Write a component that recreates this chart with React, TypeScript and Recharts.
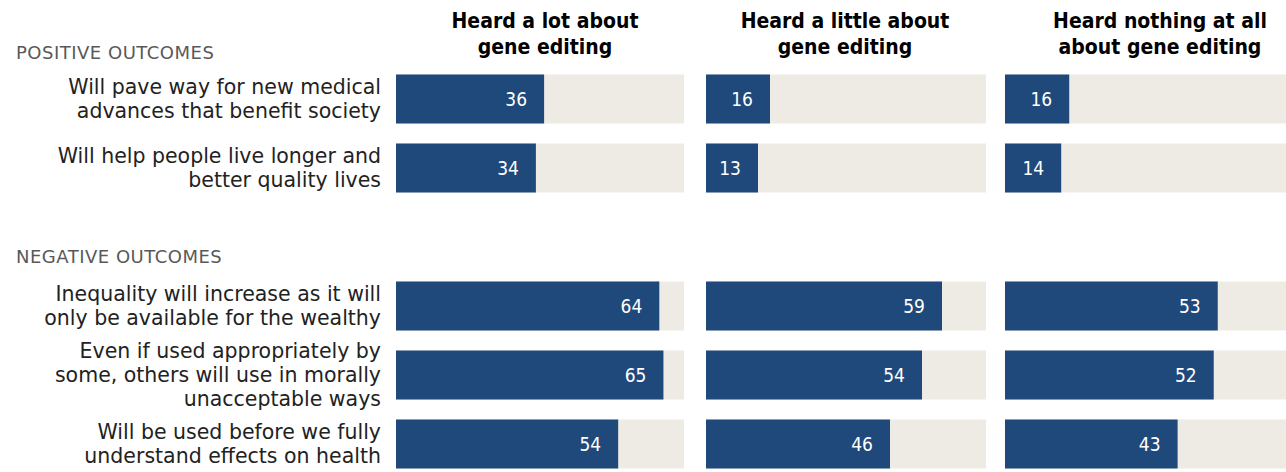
import React from "react";
import { Bar, BarChart, LabelList, XAxis, YAxis } from "recharts";

const outcomes = [
  "Will pave way for new medical\nadvances that benefit society",
  "Will help people live longer and\nbetter quality lives",
  "",
  "Inequality will increase as it will\nonly be available for the wealthy",
  "Even if used appropriately by\nsome, others will use in morally\nunacceptable ways",
  "Will be used before we fully\nunderstand effects on health",
];

const heardALot = [36, 34, null, 64, 65, 54];
const heardALittle = [16, 13, null, 59, 54, 46];
const heardNothing = [16, 14, null, 53, 52, 43];

const panelTitles = [
  "Heard a lot about\ngene editing",
  "Heard a little about\ngene editing",
  "Heard nothing at all\nabout gene editing",
];

const BLUE = "#1f497a";
const TRACK = "#eeebe5";
const NARROW = "'DejaVu Sans Condensed', 'DejaVu Sans', sans-serif";
const BODY = "'DejaVu Sans', sans-serif";

const toRows = (values: (number | null)[]) =>
  outcomes.map((name, i) => ({ name, v: values[i] }));

function OutcomeTick(props: any) {
  const { x, y, payload } = props;
  const lines = String(payload.value).split("\n").filter(Boolean);
  if (!lines.length) return null;
  const lh = 24;
  return (
    <text x={x} y={y} textAnchor="end" fill="#222" fontSize={20.5} fontFamily={BODY}>
      {lines.map((l, i) => (
        <tspan key={i} x={x} dy={i === 0 ? -((lines.length - 1) / 2) * lh + 7 : lh}>
          {l}
        </tspan>
      ))}
    </text>
  );
}

function Panel({
  values,
  width,
  withLabels,
}: {
  values: (number | null)[];
  width: number;
  withLabels?: boolean;
}) {
  const rows = toRows(values);
  const track = (p: any) =>
    p.payload && p.payload.v == null ? (
      <g />
    ) : (
      <rect x={p.x} y={p.y} width={p.width} height={p.height} fill={TRACK} />
    );
  return (
    <BarChart
      layout="vertical"
      width={width}
      height={480}
      data={rows}
      margin={{ top: 64.5, right: 0, bottom: 1.5, left: 0 }}
      barCategoryGap={20}
    >
      <XAxis type="number" domain={[0, 70]} hide />
      {withLabels ? (
        <YAxis
          type="category"
          dataKey="name"
          width={396}
          axisLine={false}
          tickLine={false}
          tickSize={0}
          tickMargin={15}
          interval={0}
          tick={<OutcomeTick />}
        />
      ) : (
        <YAxis type="category" dataKey="name" hide />
      )}
      <Bar dataKey="v" fill={BLUE} barSize={49} background={track} isAnimationActive={false}>
        <LabelList
          dataKey="v"
          position="insideRight"
          offset={17}
          fill="#fff"
          fontSize={19}
          fontFamily={NARROW}
        />
      </Bar>
    </BarChart>
  );
}

const titleCenters = [545, 845, 1160];

const sectionStyle: React.CSSProperties = {
  position: "absolute",
  left: 16,
  fontSize: 18,
  letterSpacing: 0.5,
  color: "#595959",
};

export default function App() {
  return (
    <div
      style={{
        position: "relative",
        width: 1286,
        height: 472,
        overflow: "hidden",
        background: "#fff",
        fontFamily: BODY,
      }}
    >
      <style>{`body{margin:0}`}</style>
      {panelTitles.map((t, i) => (
        <div
          key={i}
          style={{
            position: "absolute",
            top: 8,
            left: titleCenters[i] - 150,
            width: 300,
            textAlign: "center",
            fontFamily: NARROW,
            fontWeight: 700,
            fontSize: 21,
            lineHeight: "26px",
            color: "#000",
            whiteSpace: "pre-line",
          }}
        >
          {t}
        </div>
      ))}
      <div style={{ ...sectionStyle, top: 42 }}>POSITIVE OUTCOMES</div>
      <div style={{ ...sectionStyle, top: 246 }}>NEGATIVE OUTCOMES</div>
      <div style={{ position: "absolute", left: 0, top: 0 }}>
        <Panel values={heardALot} width={684} withLabels />
      </div>
      <div style={{ position: "absolute", left: 706, top: 0 }}>
        <Panel values={heardALittle} width={280} />
      </div>
      <div style={{ position: "absolute", left: 1005, top: 0 }}>
        <Panel values={heardNothing} width={281} />
      </div>
    </div>
  );
}
